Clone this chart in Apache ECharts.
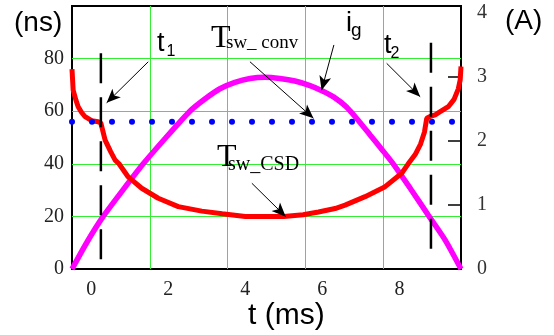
<!DOCTYPE html>
<html>
<head>
<meta charset="utf-8">
<script src="https://cdn.jsdelivr.net/npm/echarts@6/dist/echarts.min.js"></script>
<style>
    html, body { margin: 0; padding: 0; background: #fff; }
    #chart { width: 554px; height: 335px; }
</style>
</head>
<body>
<div id="chart"></div>
<script>
// tick labels
var timeTicks = [0, 2, 4, 6, 8];
var nsTicks = [0, 20, 40, 60, 80];
var ampTicks = [0, 1, 2, 3, 4];
var ampTickMarks = [1, 2, 3];

// T_sw_CSD (ns, left axis)
var csdTime = [-0.5, -0.47, -0.4, -0.34, -0.25, -0.16, 0.01, 0.18, 0.25, 0.36, 0.5, 0.62, 0.72, 0.96, 1.31, 1.74, 2.26, 2.87,
               3.4, 4.0, 5.0, 5.5, 5.9, 6.33, 6.59, 7.11, 7.63, 8.06, 8.23, 8.41, 8.55, 8.65, 8.71, 8.8, 8.93, 9.05, 9.27, 9.42, 9.53, 9.58, 9.6];
var csdNs   = [76, 68, 64.3, 61.7, 59.5, 57.9, 56.4, 56, 55.5, 49, 44.7, 41.4, 40, 35, 30.7, 26.9, 23.7, 22,
               21, 20, 20, 20.6, 21.7, 23, 24.3, 27.5, 31.3, 36.4, 40, 43.5, 47.5, 52, 57.3, 58, 58.6, 59.7, 61.7, 64.5, 68.5, 72, 77];

// i_g (A, right axis)
var igTime = [-0.5, -0.09, 0.31, 0.82, 1.35, 1.94, 2.56, 2.95, 3.34, 3.73, 4.12, 4.51, 4.9, 5.29, 5.68, 5.99, 6.3, 6.62,
              6.93, 7.24, 7.55, 7.84, 8.28, 8.75, 9.19, 9.6];
var igAmp  = [0, 0.44, 0.82, 1.23, 1.64, 2.05, 2.46, 2.65, 2.81, 2.91, 2.97, 2.99, 2.97, 2.93, 2.86, 2.78, 2.68, 2.53,
              2.32, 2.09, 1.86, 1.64, 1.26, 0.84, 0.45, 0];

// T_sw_conv (ns, constant)
var convTime = [-0.5, 9.4];
var convNs = [56, 56];

// t1 / t2 markers
var t1 = 0.25, t2 = 8.82;
var t1Ns = [82, 0];
var t2Ns = [86, 3];

// annotation arrows [from, to] in (ms, ns)
var arrowFrom = [[1.48, 78.8], [4.12, 78.8], [6.30, 85.2], [7.67, 78.2], [4.17, 32.6]];
var arrowTo   = [[0.40, 63.2], [5.77, 57.3], [5.98, 68.0], [8.54, 65.5], [5.05, 19.9]];

function zip(a, b) {
    var out = [];
    for (var i = 0; i < a.length; i++) out.push([a[i], b[i]]);
    return out;
}

var sans = '"Liberation Sans", Arial, sans-serif';
var serif = '"Liberation Serif", "Times New Roman", serif';

function txt(x, y, s, size, family) {
    return {
        type: 'text', x: x, y: y, z: 100,
        style: { text: s, font: size + 'px ' + family, fill: '#000', align: 'left', verticalAlign: 'middle' }
    };
}

var arrowData = [];
for (var i = 0; i < arrowFrom.length; i++) {
    arrowData.push([{ coord: arrowFrom[i], symbol: 'none' }, { coord: arrowTo[i], symbol: 'arrow', symbolSize: [9, 14] }]);
}

var chart = echarts.init(document.getElementById('chart'));
var green = '#33ee33';

var opt = {
    animation: false,
    backgroundColor: '#fff',
    grid: { left: 72, top: 6, width: 389, height: 263, show: true, borderColor: '#000', borderWidth: 2, backgroundColor: 'transparent' },
    xAxis: [{
        type: 'value', min: -0.5, max: 9.6,
        axisLine: { show: false, onZero: false },
        axisTick: { show: false },
        splitLine: { show: false },
        axisLabel: { customValues: timeTicks, margin: 11, color: '#222', fontSize: 20, fontFamily: serif }
    }, {
        // only for the vertical green grid (5 equal columns)
        type: 'value', min: 0, max: 5, interval: 1, position: 'top',
        axisLine: { show: false, onZero: false }, axisTick: { show: false }, axisLabel: { show: false },
        splitLine: { show: true, showMinLine: false, showMaxLine: false, lineStyle: { color: green, width: 1 } }
    }],
    yAxis: [{
        type: 'value', min: 0, max: 100, interval: 20, position: 'left',
        axisLine: { show: false, onZero: false },
        axisTick: { show: false },
        splitLine: { show: true, showMinLine: false, showMaxLine: false, lineStyle: { color: green, width: 1 } },
        axisLabel: { customValues: nsTicks, margin: 8, color: '#222', fontSize: 20, fontFamily: serif }
    }, {
        type: 'value', min: 0, max: 4.1, position: 'right',
        axisLine: { show: false, onZero: false },
        axisTick: { show: true, inside: true, length: 13, customValues: ampTickMarks, lineStyle: { color: '#000', width: 1.5 } },
        splitLine: { show: false },
        axisLabel: { customValues: ampTicks, margin: 16, color: '#333', fontSize: 20, fontFamily: serif }
    }],
    series: [{
        name: 'ig', type: 'line', xAxisIndex: 0, yAxisIndex: 1,
        data: zip(igTime, igAmp), showSymbol: false, smooth: 0.2, z: 2,
        lineStyle: { color: '#ff00ff', width: 5.5 }
    }, {
        name: 'Tsw_CSD', type: 'line', xAxisIndex: 0, yAxisIndex: 0,
        data: zip(csdTime, csdNs), showSymbol: false, z: 3,
        lineStyle: { color: '#ff0000', width: 5 },
        markLine: {
            silent: true, animation: false, symbol: ['none', 'arrow'],
            label: { show: false },
            lineStyle: { color: '#000', width: 1, type: 'solid' },
            itemStyle: { color: '#000' },
            emphasis: { disabled: true },
            data: arrowData
        }
    }, {
        name: 't1', type: 'line', xAxisIndex: 0, yAxisIndex: 0,
        data: zip([t1, t1], t1Ns), showSymbol: false, z: 4,
        lineStyle: { color: '#000', width: 2.5, type: [30, 14] }
    }, {
        name: 't2', type: 'line', xAxisIndex: 0, yAxisIndex: 0,
        data: zip([t2, t2], t2Ns), showSymbol: false, z: 4,
        lineStyle: { color: '#000', width: 2.5, type: [30, 14] }
    }, {
        name: 'Tsw_conv', type: 'line', xAxisIndex: 0, yAxisIndex: 0,
        data: zip(convTime, convNs), showSymbol: false, z: 5,
        lineStyle: { color: '#0000ff', width: 6, type: [0, 20], cap: 'round' }
    }],
    graphic: [
        txt(14, 23.5, '(ns)', 28, sans),
        txt(505, 21, '(A)', 28, sans),
        txt(248, 316, 't (ms)', 30, sans),
        txt(157, 43.5, 't', 27, sans),
        txt(166.5, 51.4, '1', 16, sans),
        txt(384, 46, 't', 27, sans),
        txt(390.5, 54, '2', 16, sans),
        txt(346, 23.5, 'i', 27, sans),
        txt(351, 30.5, 'g', 19, sans),
        txt(211, 39, 'T', 32, serif),
        txt(226, 43.5, 'sw_ conv', 19, serif),
        txt(217, 158, 'T', 32, serif),
        txt(228, 165, 'sw_CSD', 20, serif)
    ]
};

chart.setOption(opt);
</script>
</body>
</html>
